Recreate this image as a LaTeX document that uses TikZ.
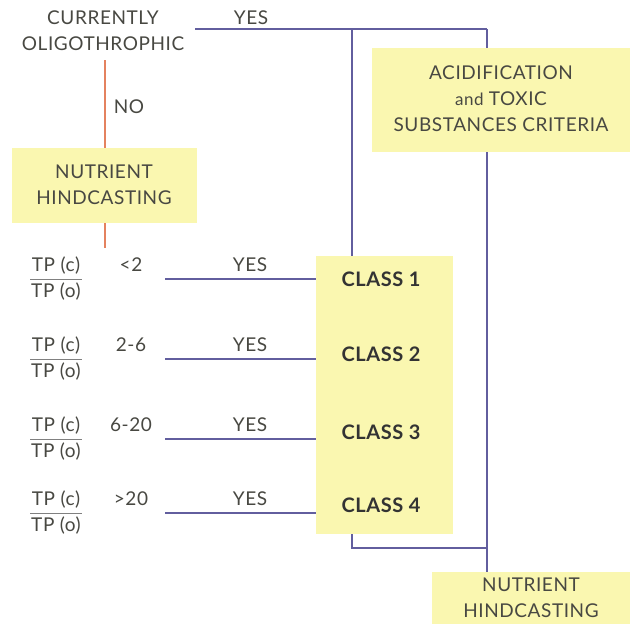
\documentclass[tikz,border=0pt]{standalone}
\usepackage{fontspec}
\setmainfont{Lato}[LetterSpace=3]
\definecolor{inkgray}{RGB}{72,72,66}
\definecolor{boxyellow}{RGB}{250,247,176}
\definecolor{linkviolet}{RGB}{98,94,158}
\definecolor{noorange}{RGB}{228,130,95}
\begin{document}
\begin{tikzpicture}[x=1pt,y=-1pt,
  txt/.style={text=inkgray, font=\fontsize{19}{26}\selectfont, align=center, inner sep=0pt},
  box/.style={fill=boxyellow, draw=none},
  link/.style={draw=linkviolet, line width=1.6pt},
  nolink/.style={draw=noorange, line width=1.6pt},
  cls/.style={txt, font=\fontsize{20}{24}\selectfont\bfseries, text=black!80},
  frac/.style={txt, font=\fontsize{19}{22}\selectfont}]
\useasboundingbox (0,0) rectangle (637,624);

% yellow boxes
\path[box] (372,48) rectangle (630,152);
\path[box] (12,148) rectangle (197,223);
\path[box] (316,256) rectangle (453,534);
\path[box] (432,572) rectangle (630,624);

% labels
\node[txt] (cur) at (103,31) {CURRENTLY\\OLIGOTHROPHIC};
\node[txt] (acid) at (501,99) {ACIDIFICATION\\{\fontsize{17}{20}\selectfont and} TOXIC\\SUBSTANCES CRITERIA};
\node[txt] (nhl) at (104,185) {NUTRIENT\\HINDCASTING};
\node[txt] (nhr) at (531,598) {NUTRIENT\\HINDCASTING};
\node[txt] (no) at (129,107) {NO};
\node[txt] (yes0) at (251,18) {YES};

% connectors from the top decision
\coordinate (tr) at (487,29);
\coordinate (tl) at (352,29);
\draw[link] (195,29) -- (tr);
\draw[link] (tl) -- (352,256);
\draw[link] (tr) -- (487,48);
\draw[link] (487,152) -- (487,572);
\draw[link] (352,534) -- (352,548) -- (487,548);
\draw[nolink] (105,60) -- (105,148);
\draw[nolink] (105,223) -- (105,248);

% ratio rows
\foreach \i/\y/\v in {1/279/{<2},2/359/{2-6},3/439/{6-20},4/513/{>20}}{
  \node[frac] (tpc\i) at (56,\y-13) {TP (c)};
  \node[frac] (tpo\i) at (56,\y+13) {TP (o)};
  \draw[black!50, line width=0.9pt] (30,\y) -- (82,\y);
  \node[txt] (val\i) at (131,\y-14) {\v};
  \node[txt] (yes\i) at (250,\y-14) {YES};
  \draw[link] (165,\y) -- (316,\y);
}
\node[cls] (c1) at (381,279) {CLASS 1};
\node[cls] (c2) at (381,354) {CLASS 2};
\node[cls] (c3) at (381,432) {CLASS 3};
\node[cls] (c4) at (381,505) {CLASS 4};
\end{tikzpicture}
\end{document}
